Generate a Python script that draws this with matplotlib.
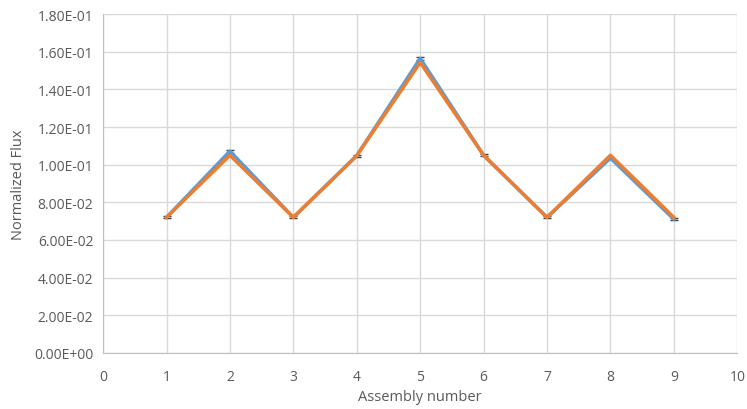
import numpy as np
import matplotlib.pyplot as plt

plt.rcParams['font.family'] = ['Open Sans', 'DejaVu Sans']

assembly = [1, 2, 3, 4, 5, 6, 7, 8, 9]
flux_calc = [0.0720, 0.1072, 0.0720, 0.1048, 0.1565, 0.1050, 0.0720, 0.1035, 0.0710]
flux_err = [0.0005, 0.0008, 0.0005, 0.0005, 0.0010, 0.0005, 0.0005, 0.0005, 0.0005]
flux_ref = [0.0720, 0.1050, 0.0720, 0.1048, 0.1543, 0.1050, 0.0720, 0.1050, 0.0720]

fig = plt.figure(figsize=(7.47, 4.10), dpi=100)
ax = fig.add_axes([0.138, 0.137, 0.849, 0.826])

ax.errorbar(assembly, flux_calc, yerr=flux_err, color='#5b9bd5', linewidth=2.5,
            ecolor='#404040', elinewidth=1, capsize=3, zorder=3)
ax.plot(assembly, flux_ref, color='#ed7d31', linewidth=2.5, zorder=4)

ax.set_xlim(0, 10)
ax.set_ylim(0, 0.18)
ax.set_xticks(range(0, 11))
yt = np.arange(0, 0.1801, 0.02)
ax.set_yticks(yt)
ax.set_yticklabels([f"{v:.2E}" for v in yt])
ax.grid(True, color='#d9d9d9', linewidth=1)
ax.set_axisbelow(True)
for s in ['top', 'right']:
    ax.spines[s].set_visible(False)
for s in ['left', 'bottom']:
    ax.spines[s].set_color('#bfbfbf')
ax.tick_params(length=0, labelsize=10, colors='#595959')
ax.tick_params(axis='y', pad=7)
ax.tick_params(axis='x', pad=12)
ax.set_xlabel("Assembly number", fontsize=10.5, color='#595959', labelpad=3)
ax.set_ylabel("Normalized Flux", fontsize=10.5, color='#595959', labelpad=6)

plt.savefig("out.png", dpi=100)
